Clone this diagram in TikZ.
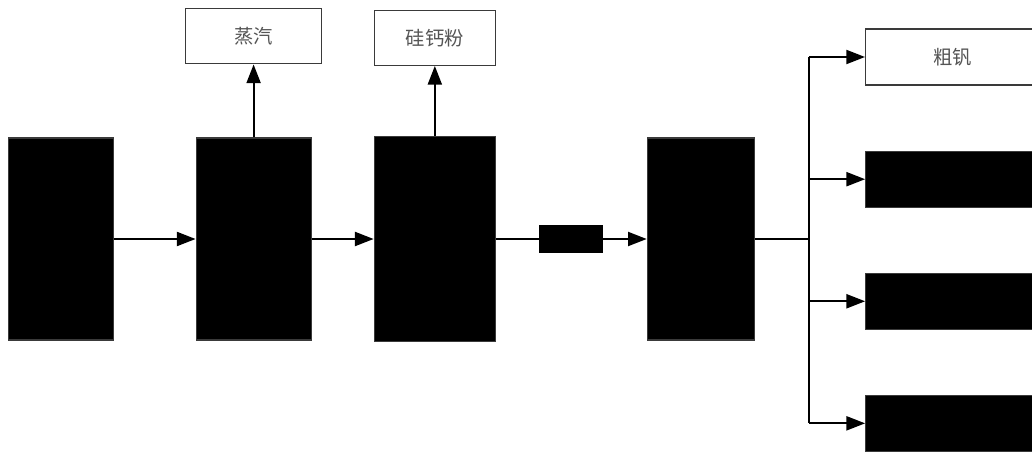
\documentclass[tikz,border=0pt]{standalone}
\usepackage{fontspec}
\setmainfont{Noto Sans CJK SC}
\usetikzlibrary{arrows.meta,positioning}
\definecolor{edge}{HTML}{3A3A3A}
\definecolor{label}{HTML}{555555}
\tikzset{unit/.style={draw=edge,fill=black,line width=0.8pt,minimum height=151.5pt,inner sep=0pt},
  outbox/.style={draw=edge,fill=white,line width=1pt,minimum height=41.25pt,text=label,
  font=\fontsize{14.5}{17}\selectfont,inner sep=0pt},
  prod/.style={draw=edge,fill=black,line width=0.8pt,minimum width=150pt,minimum height=42pt,inner sep=0pt},
  arrow/.style={-{Triangle[length=14pt,width=10.5pt]},line width=1.5pt,draw=black},
  line/.style={line width=1.5pt,draw=black}}

\begin{document}
\begin{tikzpicture}
\useasboundingbox (0,0) rectangle (774pt,-339.75pt);
\node[unit,minimum width=78.75pt] (s1) at (45.4pt,-179.25pt) {};
\node[unit,minimum width=86.25pt,right=61.5pt of s1] (s2) {};
\node[unit,minimum width=91pt,minimum height=153.75pt,right=46.5pt of s2] (s3) {};
\node[unit,minimum width=80.25pt,right=113pt of s3] (s4) {};
\node[outbox,minimum width=102pt,above=54.75pt of s2] (steam) {蒸汽};
\node[outbox,minimum width=91pt,above=52.5pt of s3] (sica) {硅钙粉};
\node[outbox,minimum width=150pt,minimum height=42pt,anchor=west] (p1) at (648.75pt,-42.75pt) {\hspace*{-20pt}粗钒};
\node[prod,below=48.75pt of p1] (p2) {};
\node[prod,below=48.75pt of p2] (p3) {};
\node[prod,below=48.75pt of p3] (p4) {};
\coordinate[right=40.5pt of s4] (split);
\draw[arrow] (s1)--(s2);\draw[arrow] (s2)--(s3);
\draw[arrow] (s3)-- node[fill=black,minimum width=48pt,minimum height=21pt,inner sep=0pt] (mid) {} (s4);
\draw[arrow] (s2)--(steam);\draw[arrow] (s3)--(sica);
\draw[line] (s4)--(split);
\draw[line] (split |- p1)--(split |- p4);
\foreach \p in {p1,p2,p3,p4} \draw[arrow] (split |- \p)--(\p);
\end{tikzpicture}
\end{document}
